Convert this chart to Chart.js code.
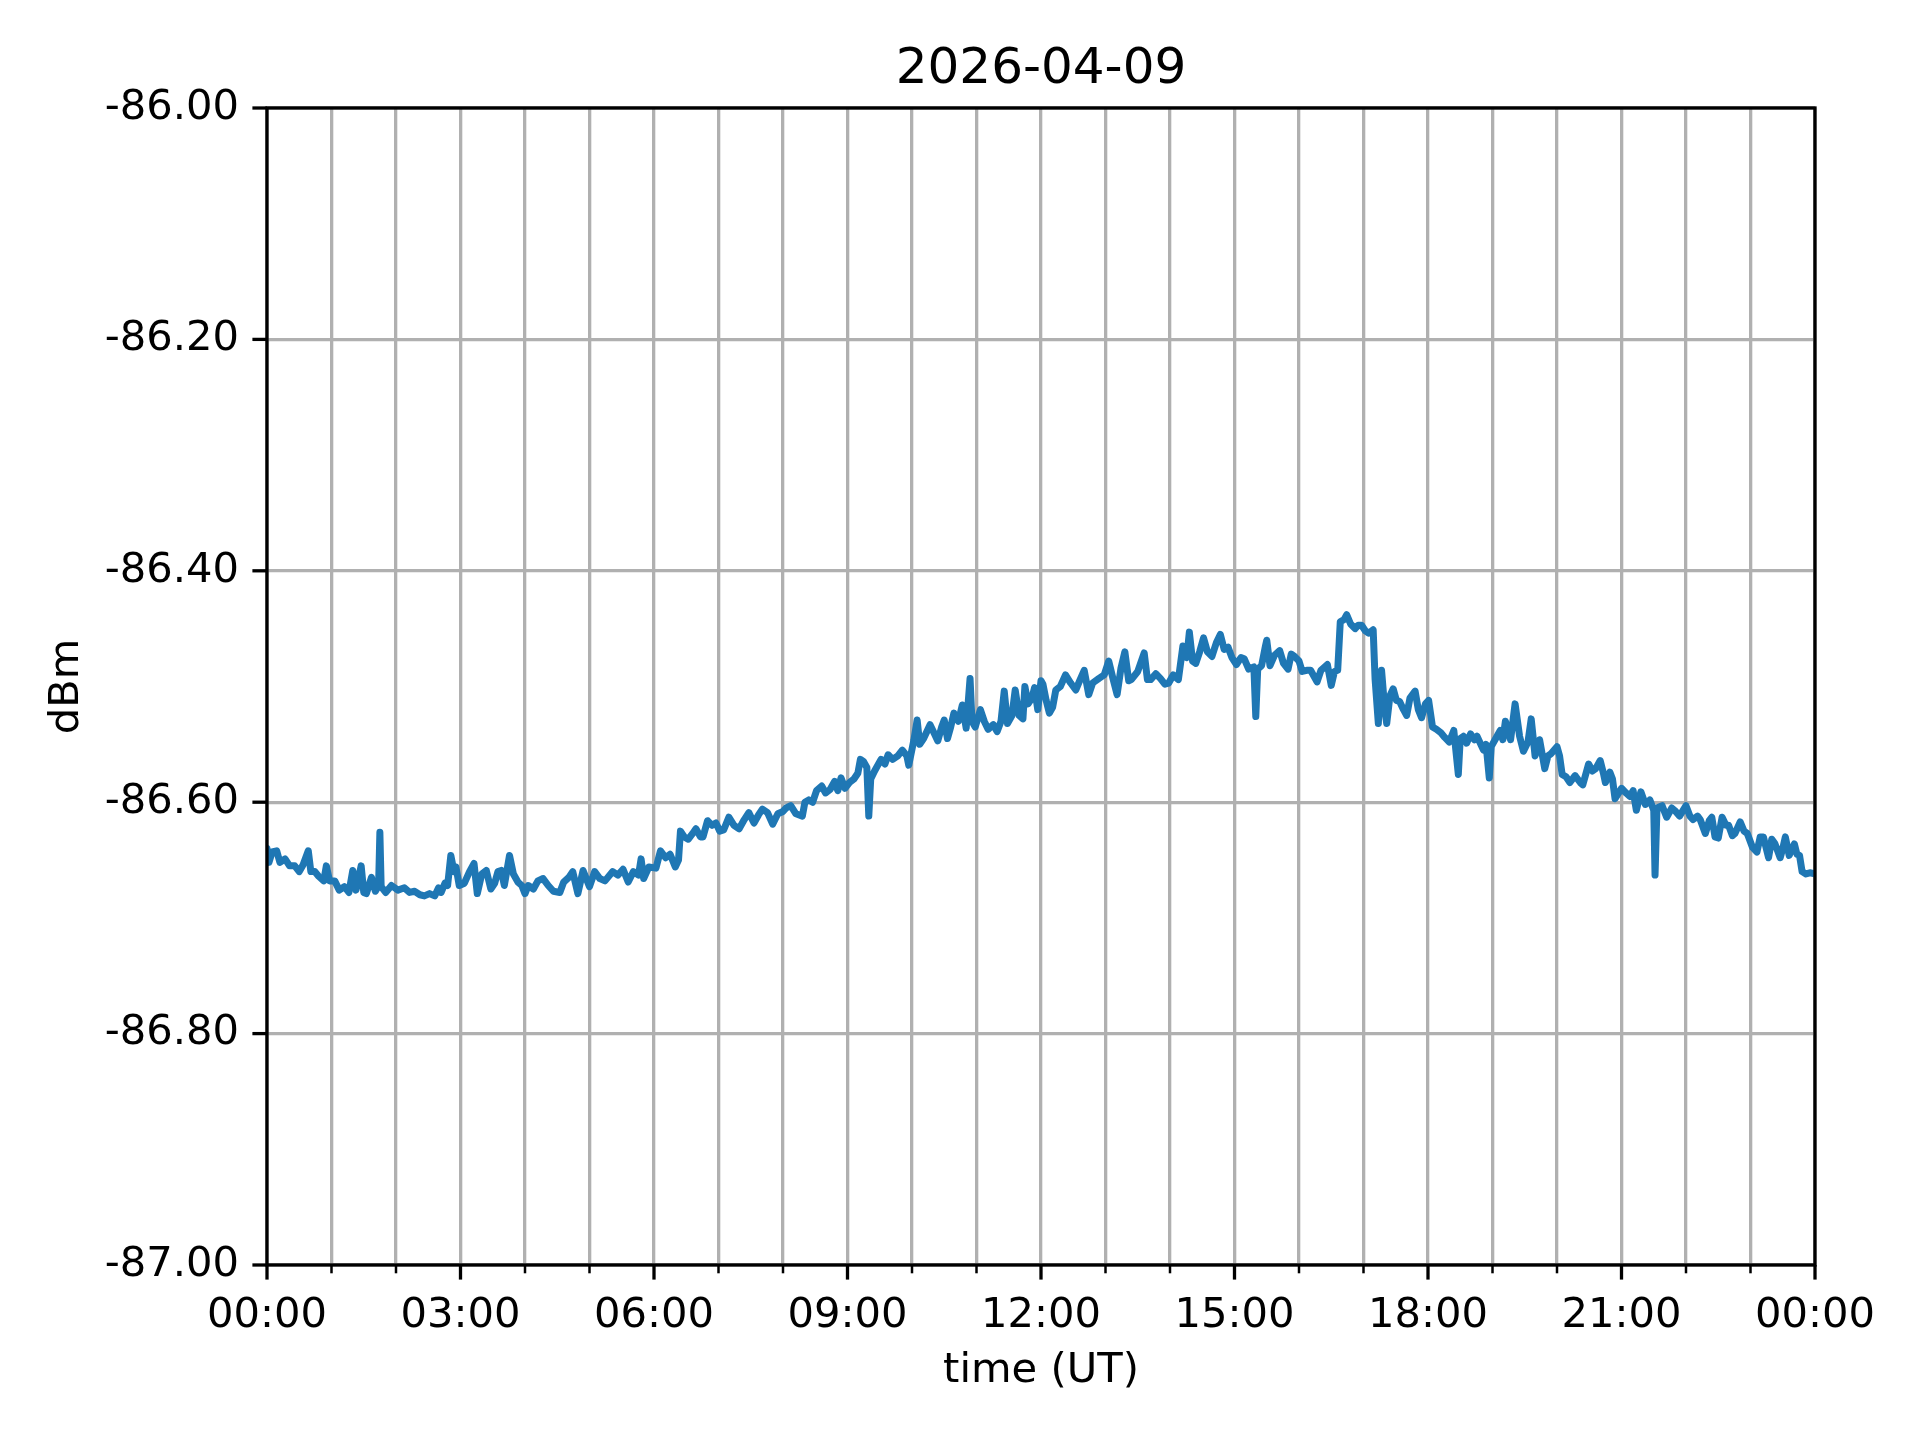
<!DOCTYPE html>
<html>
<head>
<meta charset="utf-8">
<title>2026-04-09</title>
<script src="https://cdn.jsdelivr.net/npm/chart.js@4.4.1/dist/chart.umd.min.js"></script>
<style>
  html, body { margin: 0; padding: 0; background: #fff; }
  #wrap { width: 1920px; height: 1440px; }
</style>
</head>
<body>
<div id="wrap"><canvas id="chart" width="1920" height="1440"></canvas></div>
<script>
// time of day in hours (UT)
const hours = [
  0.00, 0.03, 0.08, 0.15, 0.20, 0.28, 0.35, 0.43, 0.50, 0.56, 0.64, 0.68, 0.74, 0.80, 0.88, 0.92, 0.97,
  1.05, 1.12, 1.20, 1.27, 1.33, 1.38, 1.46, 1.50, 1.54, 1.62, 1.68, 1.73, 1.75, 1.77, 1.84, 1.93,
  2.03, 2.13, 2.21, 2.29, 2.37, 2.44, 2.52, 2.60, 2.66, 2.70, 2.76, 2.80, 2.85, 2.90, 2.93, 2.98,
  3.06, 3.14, 3.21, 3.26, 3.33, 3.40, 3.47, 3.53, 3.58, 3.63, 3.68, 3.76, 3.82, 3.89, 3.95, 4.00,
  4.05, 4.13, 4.20, 4.28, 4.36, 4.44, 4.54, 4.60, 4.68, 4.74, 4.82, 4.90, 5.00, 5.08, 5.16, 5.24,
  5.36, 5.44, 5.52, 5.60, 5.68, 5.76, 5.80, 5.84, 5.92, 6.03, 6.10, 6.18, 6.25, 6.33, 6.38, 6.41,
  6.47, 6.53, 6.60, 6.65, 6.72, 6.76, 6.83, 6.90, 6.96, 7.02, 7.08, 7.16, 7.24, 7.32, 7.40, 7.47,
  7.55, 7.62, 7.68, 7.76, 7.84, 7.92, 8.00,
  8.05, 8.12, 8.20, 8.30, 8.34, 8.40, 8.46, 8.52, 8.60, 8.66, 8.73, 8.80, 8.85, 8.90, 8.96, 9.03,
  9.10, 9.16, 9.20, 9.25, 9.30, 9.33, 9.36, 9.42, 9.52, 9.58, 9.63, 9.70, 9.78, 9.85, 9.92, 9.95,
  10.03, 10.08, 10.12, 10.18, 10.28, 10.34, 10.40, 10.46, 10.50, 10.55, 10.60, 10.65, 10.72, 10.78,
  10.84, 10.90, 10.93, 10.98, 11.06, 11.12, 11.18, 11.26, 11.32, 11.38, 11.43, 11.48, 11.55, 11.60,
  11.66, 11.72, 11.75, 11.80, 11.86, 11.90, 11.95, 12.00,
  12.03, 12.08, 12.13, 12.18, 12.23, 12.30, 12.38, 12.46, 12.54, 12.60, 12.67, 12.74, 12.80, 12.90,
  12.98, 13.05, 13.12, 13.18, 13.24, 13.30, 13.36, 13.40, 13.50, 13.60, 13.65, 13.70, 13.78, 13.85,
  13.92, 13.98, 14.05, 14.13, 14.20, 14.26, 14.30, 14.35, 14.40, 14.46, 14.52, 14.58, 14.65, 14.72,
  14.78, 14.84, 14.90, 14.96, 15.03, 15.10, 15.15, 15.22, 15.30, 15.33, 15.36, 15.42, 15.48, 15.50,
  15.55, 15.62, 15.70, 15.76, 15.83, 15.88, 15.93, 16.00,
  16.05, 16.12, 16.18, 16.28, 16.34, 16.44, 16.50, 16.55, 16.60, 16.64, 16.70, 16.74, 16.80, 16.87,
  16.92, 16.97, 17.03, 17.08, 17.15, 17.18, 17.23, 17.26, 17.28, 17.33, 17.36, 17.41, 17.46, 17.51,
  17.56, 17.62, 17.67, 17.72, 17.80, 17.85, 17.90, 17.96, 18.01, 18.07, 18.13, 18.20, 18.26, 18.33,
  18.40, 18.47, 18.50, 18.55, 18.60, 18.66, 18.72, 18.76, 18.86, 18.90, 18.95, 18.98, 19.05, 19.12,
  19.16, 19.20, 19.28, 19.35, 19.42, 19.48, 19.55, 19.60, 19.66, 19.73, 19.81, 19.86, 19.91, 20.00,
  20.04, 20.08, 20.14, 20.20, 20.28, 20.36, 20.40, 20.49, 20.55, 20.60, 20.67, 20.72, 20.75, 20.82,
  20.86, 20.90, 21.00, 21.07, 21.13, 21.18, 21.23, 21.30, 21.37, 21.44, 21.50, 21.52, 21.55, 21.63,
  21.70, 21.78, 21.84, 21.90, 22.00, 22.06, 22.11, 22.18, 22.22, 22.30, 22.36, 22.40, 22.45, 22.50,
  22.56, 22.62, 22.66, 22.72, 22.76, 22.84, 22.90, 22.95, 23.03, 23.10, 23.15, 23.20, 23.28, 23.33,
  23.38, 23.46, 23.50, 23.54, 23.60, 23.68, 23.72, 23.76, 23.80, 23.86, 23.92, 24.00
];

// received level, dBm (same order as hours)
const dbm = [
  -86.640, -86.652, -86.643, -86.642, -86.652, -86.649, -86.655, -86.655, -86.660, -86.654, -86.642, -86.660, -86.660, -86.664, -86.668, -86.655, -86.668,
  -86.668, -86.676, -86.673, -86.678, -86.659, -86.676, -86.655, -86.678, -86.679, -86.665, -86.677, -86.672, -86.626, -86.673, -86.678, -86.672,
  -86.676, -86.674, -86.678, -86.677, -86.680, -86.681, -86.679, -86.681, -86.674, -86.678, -86.670, -86.672, -86.646, -86.660, -86.656, -86.672,
  -86.670, -86.660, -86.653, -86.679, -86.662, -86.659, -86.675, -86.670, -86.660, -86.659, -86.672, -86.646, -86.662, -86.669, -86.672, -86.679,
  -86.672, -86.675, -86.668, -86.666, -86.672, -86.677, -86.678, -86.669, -86.665, -86.660, -86.679, -86.659, -86.673, -86.660, -86.666, -86.668,
  -86.660, -86.663, -86.658, -86.669, -86.660, -86.663, -86.649, -86.666, -86.656, -86.657, -86.642, -86.648, -86.645, -86.656, -86.650, -86.625,
  -86.630, -86.632, -86.627, -86.623, -86.630, -86.630, -86.616, -86.620, -86.618, -86.625, -86.624, -86.613, -86.620, -86.623, -86.615, -86.609,
  -86.618, -86.611, -86.606, -86.609, -86.619, -86.610, -86.608,
  -86.605, -86.603, -86.610, -86.612, -86.600, -86.598, -86.600, -86.590, -86.586, -86.592, -86.589, -86.582, -86.590, -86.579, -86.588, -86.583,
  -86.580, -86.575, -86.563, -86.565, -86.570, -86.612, -86.580, -86.573, -86.563, -86.567, -86.559, -86.563, -86.560, -86.555, -86.560, -86.568,
  -86.546, -86.529, -86.550, -86.545, -86.533, -86.540, -86.547, -86.535, -86.529, -86.545, -86.535, -86.523, -86.530, -86.516,
  -86.536, -86.493, -86.530, -86.535, -86.520, -86.530, -86.537, -86.533, -86.539, -86.530, -86.504, -86.532, -86.525, -86.503,
  -86.525, -86.528, -86.500, -86.515, -86.510, -86.501, -86.520, -86.495,
  -86.498, -86.512, -86.523, -86.518, -86.503, -86.500, -86.490, -86.497, -86.503, -86.495, -86.486, -86.507, -86.497, -86.493,
  -86.490, -86.478, -86.494, -86.507, -86.484, -86.470, -86.495, -86.494, -86.487, -86.471, -86.494, -86.494, -86.489, -86.493,
  -86.498, -86.497, -86.490, -86.494, -86.465, -86.475, -86.453, -86.478, -86.480, -86.470, -86.458, -86.470, -86.474, -86.462,
  -86.455, -86.468, -86.466, -86.475, -86.481, -86.475, -86.476, -86.485, -86.483, -86.526, -86.485, -86.482, -86.465, -86.460,
  -86.482, -86.473, -86.469, -86.480, -86.485, -86.472, -86.474, -86.478,
  -86.487, -86.486, -86.486, -86.496, -86.486, -86.481, -86.499, -86.487, -86.486, -86.444, -86.442, -86.438, -86.446, -86.450,
  -86.447, -86.447, -86.452, -86.454, -86.451, -86.494, -86.532, -86.500, -86.486, -86.520, -86.532, -86.508, -86.502, -86.512,
  -86.513, -86.520, -86.525, -86.510, -86.504, -86.520, -86.527, -86.515, -86.512, -86.535, -86.537, -86.540, -86.544, -86.548,
  -86.538, -86.576, -86.545, -86.543, -86.549, -86.541, -86.546, -86.543, -86.555, -86.550, -86.579, -86.552, -86.545, -86.538,
  -86.546, -86.530, -86.546, -86.515, -86.543, -86.556, -86.548, -86.528, -86.560, -86.546, -86.571, -86.560, -86.558, -86.552,
  -86.560, -86.576, -86.578, -86.583, -86.577, -86.583, -86.585, -86.567, -86.573, -86.571, -86.564, -86.575, -86.583, -86.574,
  -86.580, -86.597, -86.588, -86.592, -86.595, -86.590, -86.607, -86.591, -86.602, -86.598, -86.607, -86.663, -86.605, -86.603,
  -86.613, -86.605, -86.608, -86.612, -86.603, -86.612, -86.615, -86.612, -86.615, -86.627, -86.616, -86.613, -86.630, -86.631,
  -86.613, -86.620, -86.620, -86.629, -86.627, -86.617, -86.625, -86.627, -86.639, -86.643, -86.630, -86.630, -86.648, -86.632,
  -86.636, -86.648, -86.640, -86.630, -86.646, -86.636, -86.645, -86.646, -86.660, -86.662, -86.661, -86.662
];

const xLabelHours = [0, 3, 6, 9, 12, 15, 18, 21, 24];
const yMin = -87.0, yMax = -86.0, yStep = 0.2;

const FONT = 'DejaVu Sans';
const fmtHour = h => String(h % 24).padStart(2, '0') + ':00';

// matplotlib-style frame + outward tick marks
const frameTicks = {
  id: 'frameTicks',
  afterDraw(chart) {
    const { ctx, chartArea: a, scales: { x, y } } = chart;
    ctx.save();
    ctx.strokeStyle = '#000';
    ctx.lineCap = 'butt';
    x.ticks.forEach(t => {
      const px = x.getPixelForValue(t.value);
      const major = xLabelHours.includes(t.value);
      ctx.lineWidth = major ? 3.3 : 2.5;
      ctx.beginPath();
      ctx.moveTo(px, a.bottom);
      ctx.lineTo(px, a.bottom + (major ? 14.6 : 8.3));
      ctx.stroke();
    });
    ctx.lineWidth = 3.3;
    y.ticks.forEach(t => {
      const py = y.getPixelForValue(t.value);
      ctx.beginPath();
      ctx.moveTo(a.left, py);
      ctx.lineTo(a.left - 14.6, py);
      ctx.stroke();
    });
    ctx.lineJoin = 'miter';
    ctx.strokeRect(a.left, a.top, a.right - a.left, a.bottom - a.top);
    ctx.restore();
  }
};

new Chart(document.getElementById('chart').getContext('2d'), {
  type: 'line',
  data: {
    datasets: [{
      data: hours.map((h, i) => ({ x: h, y: dbm[i] })),
      borderColor: '#1f77b4',
      borderWidth: 7,
      borderJoinStyle: 'round',
      borderCapStyle: 'round',
      pointRadius: 0,
      tension: 0,
      fill: false,
    }],
  },
  options: {
    responsive: false,
    devicePixelRatio: 1,
    animation: false,
    layout: { padding: { top: 40, left: 0, right: 105, bottom: 0 } },
    plugins: {
      legend: { display: false },
      tooltip: { enabled: false },
      title: {
        display: true,
        fullSize: false,
        text: '2026-04-09',
        color: '#000',
        font: { family: FONT, size: 50, weight: 'normal' },
        padding: { top: 0, bottom: 8 },
      },
    },
    scales: {
      x: {
        type: 'linear',
        min: 0, max: 24,
        afterFit: s => { s.height = 175; },
        ticks: {
          stepSize: 1,
          autoSkip: false,
          maxRotation: 0,
          padding: 26,
          color: '#000',
          font: { family: FONT, size: 41.67 },
          callback: v => xLabelHours.includes(v) ? fmtHour(v) : '',
        },
        grid: { color: '#b0b0b0', lineWidth: 3.3, drawTicks: false },
        border: { display: false },
        title: {
          display: true,
          text: 'time (UT)',
          color: '#000',
          font: { family: FONT, size: 41.67 },
          padding: { top: 0, bottom: 44 },
        },
      },
      y: {
        min: yMin, max: yMax,
        afterFit: s => { s.width = 267; },
        ticks: {
          stepSize: yStep,
          padding: 28,
          color: '#000',
          font: { family: FONT, size: 41.67 },
          callback: v => v.toFixed(2),
        },
        grid: { color: '#b0b0b0', lineWidth: 3.3, drawTicks: false },
        border: { display: false },
        title: {
          display: true,
          text: 'dBm',
          color: '#000',
          font: { family: FONT, size: 41.67 },
          padding: { top: 42, bottom: 0 },
        },
      },
    },
  },
  plugins: [frameTicks],
});
</script>
</body>
</html>
